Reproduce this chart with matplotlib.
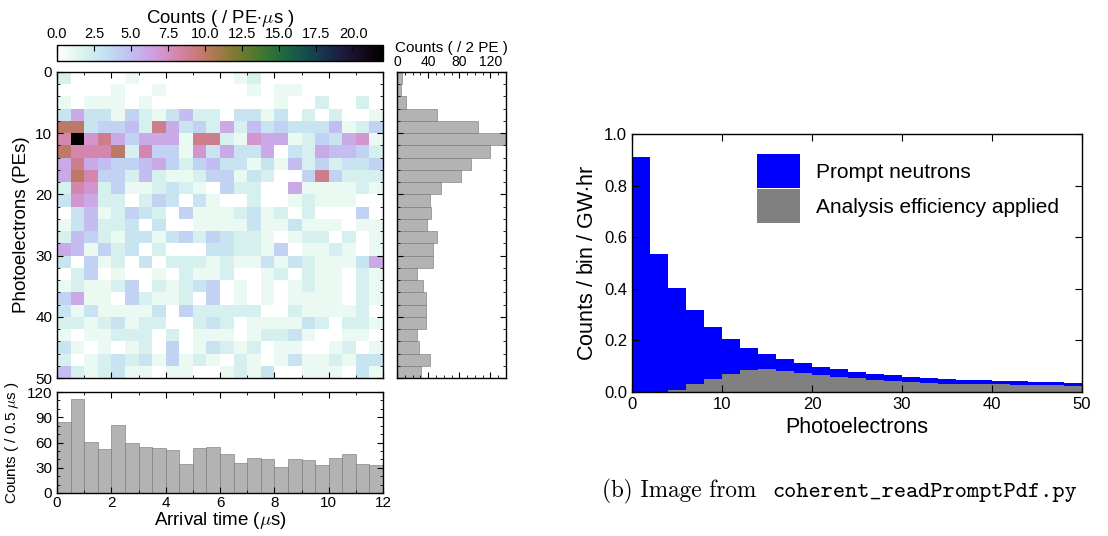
import numpy as np
import matplotlib
matplotlib.use("Agg")
import matplotlib.pyplot as plt
from matplotlib.ticker import MultipleLocator

plt.rcParams['font.family'] = ['Liberation Sans', 'DejaVu Sans']
plt.rcParams['mathtext.fontset'] = 'cm'

# ---- data ----
t_edges = np.arange(0, 12.5, 0.5)      # arrival time bins (us)
pe_edges = np.arange(0, 52, 2)         # photoelectron bins

# counts per (PE bin, time bin), rows = PE 0-2, 2-4, ...
counts = np.array([
    [2, 0, 0, 0, 0, 1, 0, 0, 0, 0, 0, 0, 0, 1, 2, 0, 0, 0, 0, 0, 0, 0, 0, 0],
    [0, 0, 0, 0, 1, 0, 0, 1, 0, 0, 0, 0, 0, 0, 1, 0, 1, 1, 0, 0, 0, 0, 0, 0],
    [1, 0, 1, 1, 1, 0, 1, 0, 0, 0, 0, 0, 0, 0, 0, 0, 1, 0, 0, 2, 0, 0, 2, 0],
    [3, 6, 3, 3, 1, 4, 2, 1, 3, 5, 2, 2, 0, 3, 3, 1, 3, 0, 2, 0, 2, 0, 0, 1],
    [10, 10, 3, 4, 4, 5, 2, 9, 6, 3, 4, 2, 6, 2, 5, 3, 4, 3, 3, 3, 5, 1, 2, 4],
    [8, 22, 7, 9, 6, 4, 6, 6, 6, 1, 9, 9, 2, 1, 7, 6, 6, 1, 2, 4, 3, 6, 7, 1],
    [10, 8, 8, 8, 10, 2, 8, 4, 4, 1, 7, 3, 6, 3, 3, 6, 0, 3, 2, 6, 5, 5, 4, 2],
    [6, 9, 6, 5, 4, 4, 5, 6, 4, 2, 4, 5, 3, 3, 1, 3, 1, 5, 2, 4, 2, 3, 3, 4],
    [6, 10, 8, 4, 4, 2, 5, 2, 1, 1, 2, 4, 4, 1, 3, 2, 0, 0, 4, 9, 4, 2, 2, 2],
    [2, 8, 7, 2, 4, 1, 1, 2, 3, 2, 1, 0, 4, 2, 2, 0, 0, 6, 1, 1, 1, 1, 2, 1],
    [3, 7, 6, 2, 2, 0, 2, 4, 3, 0, 3, 1, 0, 0, 2, 0, 0, 1, 2, 1, 1, 1, 0, 0],
    [0, 3, 5, 1, 2, 4, 3, 2, 0, 4, 1, 1, 1, 2, 3, 1, 2, 0, 2, 0, 0, 0, 4, 0],
    [1, 3, 5, 2, 2, 3, 0, 3, 0, 0, 1, 1, 1, 1, 3, 1, 1, 3, 1, 1, 1, 0, 1, 1],
    [2, 5, 4, 2, 1, 3, 3, 1, 3, 4, 2, 4, 3, 2, 2, 1, 0, 1, 2, 2, 0, 2, 0, 1],
    [6, 5, 1, 4, 2, 3, 0, 2, 0, 0, 0, 3, 3, 2, 2, 1, 4, 0, 1, 1, 2, 1, 0, 1],
    [3, 0, 4, 1, 2, 0, 3, 0, 2, 2, 2, 1, 2, 1, 1, 3, 1, 3, 2, 1, 1, 1, 3, 6],
    [0, 2, 4, 0, 1, 0, 0, 1, 0, 2, 1, 1, 2, 0, 0, 1, 2, 0, 2, 1, 1, 0, 2, 1],
    [1, 2, 1, 1, 2, 4, 0, 2, 1, 2, 3, 4, 0, 1, 0, 1, 0, 1, 2, 1, 1, 0, 2, 1],
    [4, 6, 1, 1, 0, 4, 2, 1, 1, 2, 0, 4, 0, 1, 0, 1, 0, 1, 1, 1, 1, 0, 2, 1],
    [3, 1, 3, 1, 1, 1, 1, 3, 0, 4, 2, 2, 2, 2, 2, 0, 0, 2, 1, 1, 1, 1, 2, 0],
    [2, 2, 1, 2, 3, 1, 2, 2, 0, 0, 2, 3, 2, 0, 1, 1, 1, 1, 3, 2, 0, 2, 2, 1],
    [1, 0, 1, 1, 2, 2, 2, 0, 2, 0, 1, 1, 1, 0, 1, 2, 2, 3, 1, 0, 0, 1, 1, 0],
    [3, 1, 0, 1, 0, 1, 2, 0, 4, 0, 1, 3, 2, 1, 2, 0, 1, 1, 0, 0, 1, 2, 0, 1],
    [2, 0, 1, 2, 3, 2, 3, 1, 4, 1, 2, 1, 0, 2, 1, 0, 1, 3, 1, 1, 2, 1, 3, 3],
    [5, 2, 1, 2, 3, 1, 1, 0, 1, 1, 0, 0, 1, 2, 1, 3, 0, 0, 1, 1, 1, 0, 3, 1],
])

# marginal histograms
time_counts = [84, 112, 61, 52, 81, 60, 55, 54, 51, 34, 53, 55,
               46, 36, 41, 40, 31, 40, 39, 33, 42, 46, 35, 33]
pe_counts = [6, 5, 11, 51, 104, 139, 120, 95, 82, 57, 42, 44, 38,
             51, 46, 46, 26, 34, 37, 37, 37, 26, 28, 42, 31]

# right panel: prompt neutron PE spectrum
pe_bins = np.arange(0, 52, 2)
prompt = [0.911, 0.534, 0.402, 0.317, 0.251, 0.204, 0.169, 0.146, 0.127,
          0.111, 0.096, 0.088, 0.076, 0.069, 0.065, 0.057, 0.053, 0.049,
          0.045, 0.045, 0.041, 0.041, 0.038, 0.038, 0.034]
with_eff = [0.0, 0.001, 0.006, 0.030, 0.049, 0.069, 0.085, 0.088, 0.080,
            0.072, 0.065, 0.057, 0.053, 0.045, 0.041, 0.038, 0.034, 0.032,
            0.030, 0.030, 0.030, 0.026, 0.026, 0.026, 0.022]

W, H = 1108, 536
fig = plt.figure(figsize=(W / 100, H / 100), dpi=100)


def box(x0, y0, x1, y1):
    # pixel box -> figure fraction
    return [x0 / W, 1 - y1 / H, (x1 - x0) / W, (y1 - y0) / H]


def style(ax, size=11):
    ax.tick_params(which='both', direction='in', top=True, right=True,
                   labelsize=size)
    ax.tick_params(which='major', length=4)
    ax.tick_params(which='minor', length=2)


ax_map = fig.add_axes(box(57, 72, 383, 378))
ax_cb = fig.add_axes(box(57, 45, 383, 61))
ax_side = fig.add_axes(box(397, 72, 506, 378))
ax_bot = fig.add_axes(box(57, 392, 383, 493))
ax_r = fig.add_axes(box(632, 134, 1082, 392))

# heat map
mesh = ax_map.pcolormesh(t_edges, pe_edges, counts, cmap='cubehelix_r',
                         vmin=0, vmax=22)
ax_map.set_xlim(0, 12)
ax_map.set_ylim(50, 0)
ax_map.xaxis.set_major_locator(MultipleLocator(2))
ax_map.xaxis.set_minor_locator(MultipleLocator(1))
ax_map.yaxis.set_major_locator(MultipleLocator(10))
ax_map.yaxis.set_minor_locator(MultipleLocator(2))
style(ax_map)
ax_map.tick_params(labelbottom=False)
ax_map.set_ylabel('Photoelectrons (PEs)', fontsize=13.5)

# colour bar
cb = fig.colorbar(mesh, cax=ax_cb, orientation='horizontal')
cb.set_ticks(np.arange(0, 22, 2.5))
ax_cb.xaxis.set_ticks_position('top')
ax_cb.xaxis.set_label_position('top')
ax_cb.tick_params(direction='in', length=4, labelsize=10.5, pad=3)
cb.set_label(r'Counts ( / PE$\cdot\mu$s )', fontsize=13.4, labelpad=3)
cb.outline.set_linewidth(1.0)

# PE projection
ax_side.barh(pe_edges[:-1], pe_counts, height=2, align='edge',
             color='#b3b3b3', edgecolor='0.45', linewidth=0.4)
ax_side.set_ylim(50, 0)
ax_side.set_xlim(0, 140)
ax_side.xaxis.set_major_locator(MultipleLocator(40))
ax_side.xaxis.set_minor_locator(MultipleLocator(10))
ax_side.yaxis.set_major_locator(MultipleLocator(10))
ax_side.yaxis.set_minor_locator(MultipleLocator(2))
style(ax_side, 10)
ax_side.tick_params(labelleft=False, labelbottom=False, labeltop=True,
                    pad=2)
ax_side.xaxis.set_label_position('top')
ax_side.set_xlabel('Counts ( / 2 PE )', fontsize=11, labelpad=2)

# time projection
ax_bot.bar(t_edges[:-1], time_counts, width=0.5, align='edge',
           color='#b3b3b3', edgecolor='0.45', linewidth=0.4)
ax_bot.set_xlim(0, 12)
ax_bot.set_ylim(0, 120)
ax_bot.xaxis.set_major_locator(MultipleLocator(2))
ax_bot.xaxis.set_minor_locator(MultipleLocator(1))
ax_bot.yaxis.set_major_locator(MultipleLocator(30))
ax_bot.yaxis.set_minor_locator(MultipleLocator(10))
style(ax_bot, 11)
ax_bot.tick_params(axis='x', pad=2)
ax_bot.set_xlabel(r'Arrival time ($\mu$s)', fontsize=13.5, labelpad=0)
ax_bot.set_ylabel(r'Counts ( / 0.5 $\mu$s )', fontsize=11)

for a in (ax_map, ax_side, ax_bot, ax_r):
    for s in a.spines.values():
        s.set_linewidth(1.0)

# right panel
ax_r.stairs(prompt, pe_bins, fill=True, color='#0000ff',
            label='Prompt neutrons')
ax_r.stairs(with_eff, pe_bins, fill=True, color='#808080',
            label='Analysis efficiency applied')
ax_r.set_xlim(0, 50)
ax_r.set_ylim(0, 1.0)
ax_r.xaxis.set_major_locator(MultipleLocator(10))
ax_r.yaxis.set_major_locator(MultipleLocator(0.2))
ax_r.tick_params(direction='in', top=True, right=True, length=5,
                 labelsize=12)
ax_r.set_xlabel('Photoelectrons', fontsize=15.5)
ax_r.set_ylabel(r'Counts / bin / GW$\cdot$hr', fontsize=15.5)
ax_r.legend(loc='upper left', bbox_to_anchor=(0.278, 0.922), frameon=False,
            fontsize=15, handlelength=2.05, handleheight=2.14,
            handletextpad=0.8, labelspacing=0.05, borderpad=0,
            borderaxespad=0)

# caption
fig.text(602 / W, 1 - 497 / H, '(b) Image from ', family='cmr10',
         fontsize=16.7, va='baseline')
fig.text(772 / W, 1 - 497 / H, 'coherent_readPromptPdf.py', family='cmtt10',
         fontsize=16.7, va='baseline')

fig.savefig('out.png', dpi=100)
